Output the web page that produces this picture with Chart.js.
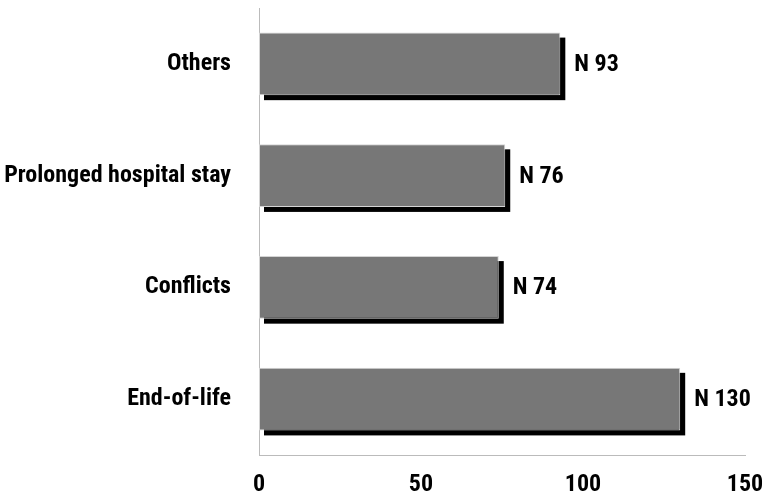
<!DOCTYPE html>
<html>
<head>
<meta charset="utf-8">
<script src="https://cdn.jsdelivr.net/npm/chart.js@4/dist/chart.umd.min.js"></script>
<style>
  html, body { margin: 0; padding: 0; background: #fff; }
</style>
</head>
<body>
<canvas id="chart" width="771" height="500"></canvas>
<script>
const categories = ['Others', 'Prolonged hospital stay', 'Conflicts', 'End-of-life'];
const counts = [93, 76, 74, 130];
const xTicks = [0, 50, 100, 150];

const FONT = '"Roboto Condensed", Roboto, "Liberation Sans", sans-serif';

// black drop shadow behind each bar + "N xx" labels
const barExtras = {
  id: 'barExtras',
  beforeDatasetsDraw(chart) {
    const ctx = chart.ctx;
    const meta = chart.getDatasetMeta(0);
    ctx.save();
    ctx.fillStyle = '#000';
    meta.data.forEach(bar => {
      const top = bar.y - bar.height / 2;
      ctx.fillRect(bar.base + 5, top + 5, bar.x - bar.base, bar.height);
    });
    ctx.restore();
  },
  afterDatasetsDraw(chart) {
    const ctx = chart.ctx;
    const meta = chart.getDatasetMeta(0);
    ctx.save();
    ctx.fillStyle = '#000';
    ctx.font = 'bold 24px ' + FONT;
    ctx.textBaseline = 'middle';
    meta.data.forEach((bar, i) => {
      ctx.fillText('N ' + counts[i], bar.x + 14, bar.y + 1);
    });
    ctx.restore();
  }
};

new Chart(document.getElementById('chart'), {
  type: 'bar',
  data: {
    labels: categories,
    datasets: [{
      data: counts,
      backgroundColor: '#777777',
      borderColor: '#d4d4d4',
      borderWidth: 1,
      borderSkipped: false,
      barPercentage: 0.56,
      categoryPercentage: 1
    }]
  },
  options: {
    indexAxis: 'y',
    responsive: false,
    animation: false,
    layout: { padding: { top: 8, right: 26, bottom: 0, left: 0 } },
    plugins: {
      legend: { display: false },
      tooltip: { enabled: false }
    },
    scales: {
      x: {
        min: 0,
        max: 150,
        afterBuildTicks: axis => { axis.ticks = xTicks.map(v => ({ value: v })); },
        afterFit: axis => { axis.height = 45; axis.paddingLeft = 0; axis.paddingRight = 0; },
        grid: { display: false },
        border: { display: true, color: '#bbbbbb', width: 1 },
        ticks: { color: '#000', padding: 8, font: { family: FONT, size: 24, weight: 'bold' } }
      },
      y: {
        afterFit: axis => { axis.width = 259; axis.paddingTop = 0; axis.paddingBottom = 0; },
        grid: { display: false },
        border: { display: true, color: '#bbbbbb', width: 1 },
        ticks: { color: '#000', padding: 20, font: { family: FONT, size: 24, weight: 'bold' } }
      }
    }
  },
  plugins: [barExtras]
});
</script>
</body>
</html>
